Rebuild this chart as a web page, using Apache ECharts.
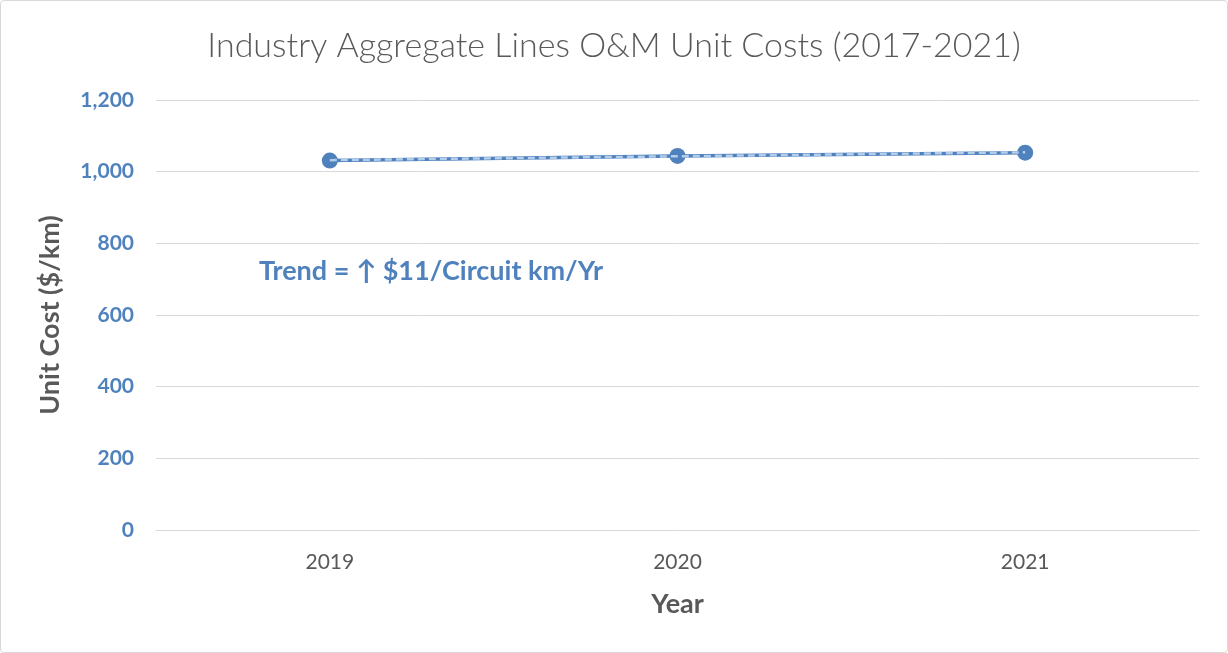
<html>
<head>
    <meta http-equiv="Content-Type" content="text/html; charset=utf-8">
    <script type="text/javascript" src="https://cdn.jsdelivr.net/npm/echarts@6/dist/echarts.min.js"></script>
    <style>
        html, body { margin: 0; padding: 0; background: #fff; }
        #main { width: 1228px; height: 653px; box-sizing: border-box; border: 1px solid #d9d9d9; border-radius: 4px; }
    </style>
</head>
<body>
<div id="main"></div>
<script type="text/javascript">
    var years = ['2019', '2020', '2021'];
    var unitCost = [1031, 1044, 1053];
    var trendLine = [1032, 1043, 1054];
    var yTicks = [0, 200, 400, 600, 800, 1000, 1200];

    var blue = '#4f81bd';
    var grey = '#595959';
    var font = 'Lato, "Open Sans", sans-serif';

    var myChart = echarts.init(document.getElementById('main'));
    var option = {
        animation: false,
        title: {
            text: 'Industry Aggregate Lines O&M Unit Costs (2017-2021)',
            left: 'center',
            top: 23,
            textStyle: { color: grey, fontSize: 34, fontWeight: 300, fontFamily: font }
        },
        grid: { left: 155, right: 28, top: 99, bottom: 122 },
        xAxis: {
            type: 'category',
            data: years,
            name: 'Year',
            nameLocation: 'middle',
            nameGap: 61,
            nameTextStyle: { color: grey, fontSize: 27, fontWeight: 'bold', fontFamily: font },
            axisLine: { lineStyle: { color: '#d9d9d9' } },
            axisTick: { show: false },
            axisLabel: { color: grey, fontSize: 21, margin: 22, fontFamily: font }
        },
        yAxis: {
            type: 'value',
            min: yTicks[0],
            max: yTicks[yTicks.length - 1],
            interval: 200,
            name: 'Unit Cost ($/km)',
            nameLocation: 'middle',
            nameGap: 92,
            nameTextStyle: { color: grey, fontSize: 27, fontWeight: 'bold', fontFamily: font },
            axisLine: { show: false },
            axisTick: { show: false },
            splitLine: { lineStyle: { color: '#d9d9d9', width: 1 } },
            axisLabel: {
                color: blue, fontSize: 21, fontWeight: 'bold', margin: 22, fontFamily: font,
                formatter: function (v) { return v.toLocaleString('en-US'); }
            }
        },
        graphic: [{
            type: 'text',
            left: 258,
            top: 257,
            style: {
                text: 'Trend = \u2191 $11/Circuit km/Yr',
                fill: blue,
                font: 'bold 27px ' + font
            }
        }],
        series: [
            {
                name: 'Unit Cost',
                type: 'line',
                data: unitCost,
                symbol: 'circle',
                symbolSize: 16,
                itemStyle: { color: blue },
                lineStyle: { color: blue, width: 3.5 },
                z: 2
            },
            {
                name: 'Trend',
                type: 'line',
                data: trendLine,
                symbol: 'none',
                lineStyle: { color: '#b4cdea', width: 2.5, type: [7, 4] },
                z: 3
            }
        ]
    };
    myChart.setOption(option);
</script>
</body>
</html>
